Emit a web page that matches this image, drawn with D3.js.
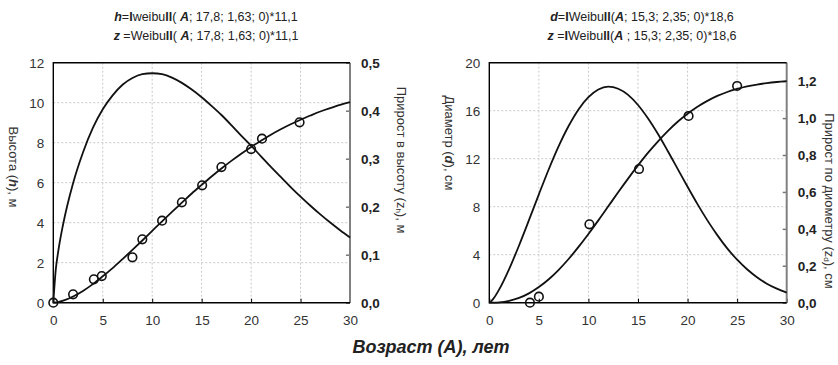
<!DOCTYPE html>
<html>
<head>
<meta charset="utf-8">
<script src="https://cdn.jsdelivr.net/npm/d3@7"></script>
<style>
body { margin: 0; background: #fff; }
text { font-family: Arial, "Liberation Sans", sans-serif; }
</style>
</head>
<body>
<div id="chart"></div>
<script>
// возраст для кривых
var curveAges = [0, 0.25, 0.5, 1, 2, 3, 4, 5, 6, 7, 8, 9, 10, 11, 12, 13, 14, 15, 16, 17, 18, 19, 20, 21, 22, 23, 24, 25, 26, 27, 28, 29, 30];
// высота h (м) и прирост z_h (м)
var heightFit = [0, 0.01, 0.03, 0.10, 0.31, 0.59, 0.93, 1.32, 1.73, 2.18, 2.64, 3.11, 3.59, 4.07, 4.54, 5.00, 5.46, 5.89, 6.31, 6.71, 7.09, 7.45, 7.79, 8.10, 8.40, 8.67, 8.92, 9.15, 9.36, 9.56, 9.73, 9.89, 10.03];
var heightGrowth = [0, 0.069, 0.107, 0.164, 0.249, 0.313, 0.364, 0.403, 0.432, 0.454, 0.468, 0.476, 0.478, 0.476, 0.469, 0.458, 0.444, 0.428, 0.410, 0.391, 0.370, 0.348, 0.327, 0.305, 0.283, 0.262, 0.241, 0.221, 0.202, 0.184, 0.167, 0.151, 0.136];
// диаметр d (см) и прирост z_d (см)
var diamFit = [0, 0.001, 0.006, 0.03, 0.16, 0.40, 0.78, 1.30, 1.95, 2.74, 3.64, 4.65, 5.73, 6.86, 8.03, 9.20, 10.34, 11.44, 12.48, 13.43, 14.30, 15.08, 15.75, 16.33, 16.82, 17.23, 17.56, 17.82, 18.03, 18.18, 18.30, 18.39, 18.46];
var diamGrowth = [0, 0.011, 0.028, 0.072, 0.182, 0.310, 0.447, 0.587, 0.723, 0.848, 0.957, 1.047, 1.113, 1.155, 1.170, 1.159, 1.126, 1.071, 0.999, 0.915, 0.822, 0.725, 0.628, 0.534, 0.446, 0.366, 0.294, 0.233, 0.181, 0.138, 0.103, 0.076, 0.055];
// наблюдения
var heightAges = [0, 2, 4.1, 4.9, 8, 9, 11, 13, 15.05, 17, 20, 21.1, 24.9];
var heightObs = [0, 0.42, 1.17, 1.33, 2.27, 3.17, 4.1, 5.02, 5.87, 6.78, 7.68, 8.2, 9.02];
var diamAges = [4.1, 5, 10.1, 15.1, 20.1, 25];
var diamObs = [0, 0.5, 6.53, 11.14, 15.56, 18.06];
// оси
var ageTicks = [0, 5, 10, 15, 20, 25, 30];
var heightTicks = [0, 2, 4, 6, 8, 10, 12];
var heightGrowthTicks = [0, 0.1, 0.2, 0.3, 0.4, 0.5];
var diamTicks = [0, 4, 8, 12, 16, 20];
var diamGrowthTicks = [0, 0.2, 0.4, 0.6, 0.8, 1.0, 1.2];

var svgwidth = 838, svgheight = 365;
var _svg = d3.select('#chart').append('svg')
    .attr('width', svgwidth)
    .attr('height', svgheight);

var fmt = function (d) { return d3.format('.1f')(d).replace('.', ','); };
var plotTop = 62.7, plotBottom = 302.7;

function drawPanel(p) {
    var x = d3.scaleLinear().domain([0, 30]).range([p.left, p.right]);
    var yL = d3.scaleLinear().domain([0, p.yMax]).range([plotBottom, plotTop]);
    var yR = d3.scaleLinear().domain([0, p.zMax]).range([plotBottom, plotTop]);
    var g = _svg.append('g');

    // сетка
    g.selectAll('.hgrid').data(p.yTicks.slice(1, -1)).enter().append('line')
        .attr('x1', p.left).attr('x2', p.right)
        .attr('y1', function (d) { return yL(d); })
        .attr('y2', function (d) { return yL(d); })
        .attr('stroke', '#c8c8c8').attr('stroke-dasharray', '2,2');
    g.selectAll('.vgrid').data(ageTicks.slice(1, -1)).enter().append('line')
        .attr('x1', function (d) { return x(d); })
        .attr('x2', function (d) { return x(d); })
        .attr('y1', plotTop).attr('y2', plotBottom)
        .attr('stroke', '#c8c8c8').attr('stroke-dasharray', '2,2');

    // оси
    var ax = g.append('g').attr('transform', 'translate(0,' + plotBottom + ')')
        .call(d3.axisBottom(x).tickValues(ageTicks).tickSize(-4).tickPadding(13));
    ax.select('.domain').remove();
    ax.selectAll('line').attr('stroke', '#000');
    ax.selectAll('text').attr('font-size', '13.5px').attr('fill', '#333');

    var al = g.append('g').attr('transform', 'translate(' + p.left + ',0)')
        .call(d3.axisLeft(yL).tickValues(p.yTicks).tickSize(0).tickPadding(9));
    al.select('.domain').remove();
    al.selectAll('text').attr('font-size', '13.5px').attr('fill', '#333');

    var ar = g.append('g').attr('transform', 'translate(' + p.right + ',0)')
        .call(d3.axisRight(yR).tickValues(p.zTicks).tickFormat(fmt).tickSize(-4).tickPadding(11));
    ar.select('.domain').remove();
    ar.selectAll('line').attr('stroke', '#777').attr('stroke-width', 1.5);
    ar.selectAll('text').attr('font-size', '13.5px').attr('font-weight', 'bold').attr('fill', '#222');

    // рамка
    g.append('line').attr('x1', p.right).attr('x2', p.right).attr('y1', plotTop).attr('y2', plotBottom)
        .attr('stroke', '#808080').attr('stroke-width', 2);
    g.append('path')
        .attr('d', 'M' + p.right + ',' + plotTop + 'H' + p.left + 'V' + plotBottom + 'H' + p.right)
        .attr('fill', 'none').attr('stroke', '#000').attr('stroke-width', 1.4);

    // кривые
    var lineL = d3.line().curve(d3.curveMonotoneX)
        .x(function (d, i) { return x(curveAges[i]); })
        .y(function (d) { return yL(d); });
    var lineR = d3.line().curve(d3.curveMonotoneX)
        .x(function (d, i) { return x(curveAges[i]); })
        .y(function (d) { return yR(d); });
    g.append('path').attr('d', lineR(p.growth))
        .attr('fill', 'none').attr('stroke', '#111').attr('stroke-width', 1.8);
    g.append('path').attr('d', lineL(p.fit))
        .attr('fill', 'none').attr('stroke', '#111').attr('stroke-width', 1.8);

    // точки
    g.selectAll('.pt').data(p.obs).enter().append('circle')
        .attr('cx', function (d, i) { return x(p.obsAges[i]); })
        .attr('cy', function (d) { return yL(d); })
        .attr('r', 4.3)
        .attr('fill', '#fff').attr('fill-opacity', 0)
        .attr('stroke', '#111').attr('stroke-width', 1.6);

    // заголовок
    var t = _svg.append('text').attr('x', p.titleX).attr('y', 21)
        .attr('text-anchor', 'middle').attr('font-size', '12.5px').attr('fill', '#222');
    p.title1.forEach(function (s) {
        t.append('tspan').attr('font-weight', s[1] ? 'bold' : null)
            .attr('font-style', s[1] === 2 ? 'italic' : null).text(s[0]);
    });
    var t2 = _svg.append('text').attr('x', p.titleX).attr('y', 40)
        .attr('text-anchor', 'middle').attr('font-size', '12.5px').attr('fill', '#222');
    p.title2.forEach(function (s) {
        t2.append('tspan').attr('font-weight', s[1] ? 'bold' : null)
            .attr('font-style', s[1] === 2 ? 'italic' : null).text(s[0]);
    });

    // подписи осей
    var yl = _svg.append('text')
        .attr('transform', 'translate(' + p.leftLabel[0] + ',' + p.leftLabel[1] + ') rotate(90)')
        .attr('text-anchor', 'middle').attr('dominant-baseline', 'central')
        .attr('font-size', '13px').attr('fill', '#333');
    yl.append('tspan').text(p.leftText[0]);
    yl.append('tspan').attr('font-weight', 'bold').attr('font-style', 'italic').text(p.leftText[1]);
    yl.append('tspan').text(p.leftText[2]);

    var yr = _svg.append('text')
        .attr('transform', 'translate(' + p.rightLabel[0] + ',' + p.rightLabel[1] + ') rotate(90)')
        .attr('text-anchor', 'middle').attr('dominant-baseline', 'central')
        .attr('font-size', '13px').attr('fill', '#333');
    yr.append('tspan').text(p.rightText[0]);
    yr.append('tspan').attr('font-size', '8px').attr('dy', 3).text(p.rightText[1]);
    yr.append('tspan').attr('dy', -3).text(p.rightText[2]);
}

drawPanel({
    left: 53.3, right: 350, yMax: 12, zMax: 0.5,
    yTicks: heightTicks, zTicks: heightGrowthTicks,
    fit: heightFit, growth: heightGrowth, obs: heightObs, obsAges: heightAges,
    titleX: 206,
    title1: [['h', 2], ['='], ['I', 1], ['weibu'], ['ll', 1], ['( '], ['A', 2], ['; 17,8; 1,63; 0)*11,1']],
    title2: [['z', 2], [' =Weibu'], ['ll', 1], ['( '], ['A', 2], ['; 17,8; 1,63; 0)*11,1']],
    leftLabel: [14, 167], leftText: ['Высота (', 'h', '), м'],
    rightLabel: [402, 160], rightText: ['Прирост в высоту (z', 'h', '), м']
});
drawPanel({
    left: 489.3, right: 786.7, yMax: 20, zMax: 1.3,
    yTicks: diamTicks, zTicks: diamGrowthTicks,
    fit: diamFit, growth: diamGrowth, obs: diamObs, obsAges: diamAges,
    titleX: 642,
    title1: [['d', 2], ['='], ['I', 1], ['Weibu'], ['ll', 1], ['('], ['A', 2], ['; 15,3; 2,35; 0)*18,6']],
    title2: [['z', 2], [' ='], ['I', 1], ['Weibu'], ['ll', 1], ['('], ['A', 2], [' ; 15,3; 2,35; 0)*18,6']],
    leftLabel: [450, 143], leftText: ['Диаметр (', 'd', '), см'],
    rightLabel: [830, 201], rightText: ['Прирост по диометру (z', 'd', '), см']
});

_svg.append('text')
    .attr('x', 431).attr('y', 353)
    .attr('text-anchor', 'middle')
    .attr('font-size', '18px').attr('font-weight', 'bold').attr('font-style', 'italic')
    .attr('fill', '#222')
    .text('Возраст (A), лет');
</script>
</body>
</html>
